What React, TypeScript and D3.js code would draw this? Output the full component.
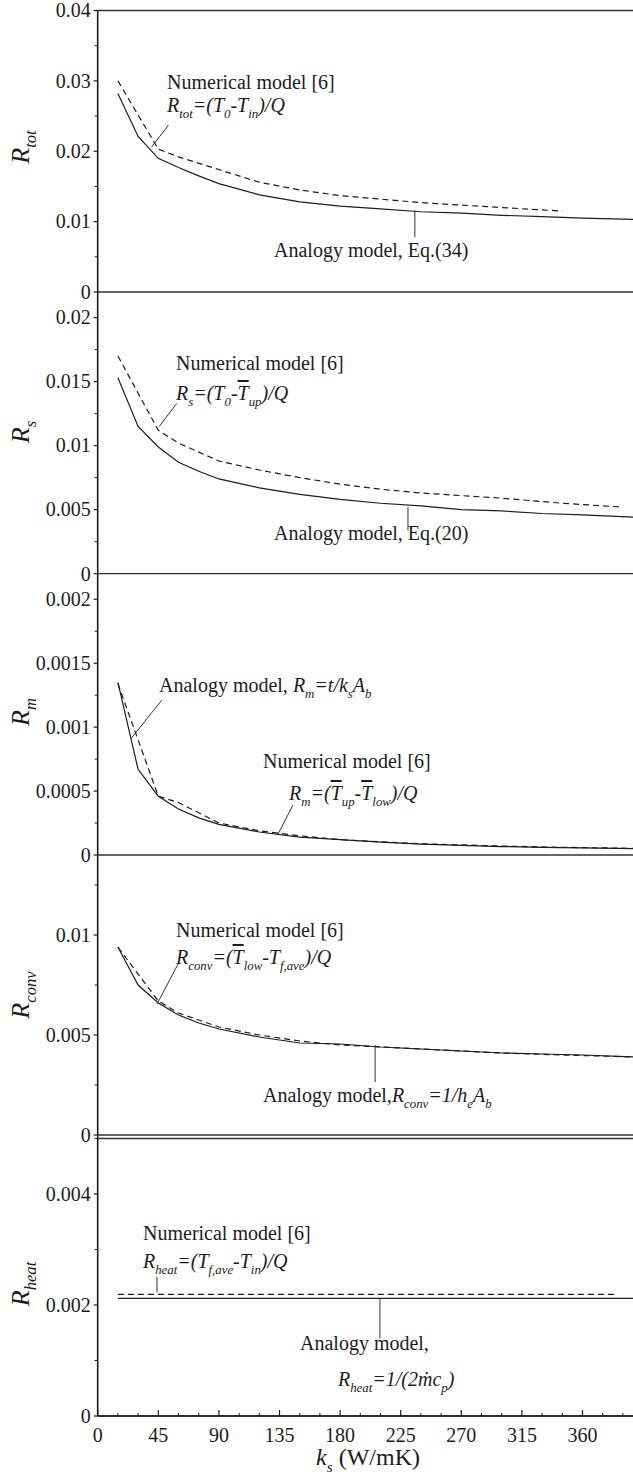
import React from 'react'
import * as d3 from 'd3'

// ---- data ----
// analogy model, solid lines
const kAnalogy = [15, 30, 45, 60, 75, 90, 120, 150, 180, 210, 240, 270, 300, 330, 360, 400]
const rTotAnalogy = [0.0282, 0.0221, 0.019, 0.0177, 0.0165, 0.0154, 0.0138, 0.0128, 0.0122, 0.0118, 0.0114, 0.0112, 0.0109, 0.0107, 0.0105, 0.0103]
const rSAnalogy = [0.0153, 0.0115, 0.0099, 0.0087, 0.008, 0.0074, 0.0067, 0.0062, 0.0058, 0.0055, 0.0053, 0.005, 0.0049, 0.0047, 0.0046, 0.0044]
const rMAnalogy = [0.00135, 0.00067, 0.00046, 0.00036, 0.00029, 0.00024, 0.00018, 0.00014, 0.00012, 0.0001, 0.000085, 0.000075, 0.000066, 0.00006, 0.000055, 0.00005]
const rConvAnalogy = [0.0094, 0.0075, 0.0066, 0.006, 0.0056, 0.0053, 0.0049, 0.0046, 0.00455, 0.0044, 0.0043, 0.0042, 0.0041, 0.00405, 0.004, 0.0039]
const rHeatAnalogy = [0.00212, 0.00212, 0.00212, 0.00212, 0.00212, 0.00212, 0.00212, 0.00212, 0.00212, 0.00212, 0.00212, 0.00212, 0.00212, 0.00212, 0.00212, 0.00212]

// numerical model [6], dashed lines
const kNumTot = [15, 45, 60, 90, 120, 150, 180, 240, 300, 345]
const rTotNumerical = [0.03, 0.0203, 0.0192, 0.0174, 0.0156, 0.0145, 0.0137, 0.0127, 0.012, 0.0115]
const kNumS = [15, 45, 60, 90, 120, 150, 180, 210, 240, 300, 345, 390]
const rSNumerical = [0.017, 0.0112, 0.0102, 0.0088, 0.0081, 0.0075, 0.007, 0.0066, 0.0063, 0.0059, 0.0055, 0.0052]
const kNumM = [15, 45, 60, 90, 120, 150, 180, 240, 300, 345, 400]
const rMNumerical = [0.00134, 0.00046, 0.00041, 0.00025, 0.00019, 0.00015, 0.00012, 0.000088, 0.00007, 0.00006, 0.000052]
const kNumConv = [15, 45, 60, 90, 120, 150, 180, 240, 300, 345, 400]
const rConvNumerical = [0.0094, 0.0067, 0.0061, 0.0054, 0.005, 0.0047, 0.0045, 0.0043, 0.0041, 0.004, 0.0039]
const kNumHeat = [15, 60, 120, 180, 240, 300, 345, 386]
const rHeatNumerical = [0.00219, 0.00219, 0.00219, 0.00219, 0.00219, 0.00219, 0.00219, 0.00219]

// tick labels
const xTicks = [0, 45, 90, 135, 180, 225, 270, 315, 360]
const tickTot = [0, 0.01, 0.02, 0.03, 0.04]
const tickS = [0, 0.005, 0.01, 0.015, 0.02]
const tickM = [0, 0.0005, 0.001, 0.0015, 0.002]
const tickConv = [0, 0.005, 0.01]
const tickHeat = [0, 0.002, 0.004]

const SERIF = '"Liberation Serif", "Times New Roman", serif'
const INK = '#1c1c1c'

const xScale = d3.scaleLinear().domain([0, 400]).range([97.7, 97.7 + 400 * 1.3467])

// each part: [text, kind]  kind: '' italic, 's' subscript, 'b' overbar, 'u' upright
type Part = [string, string]

const Rich = ({ x, y, parts, size = 20, anchor = 'start', transform }: any) => {
  let shift = 0
  return (
    <text x={x} y={y} fontFamily={SERIF} fontSize={size} fontStyle="italic" fill={INK}
      textAnchor={anchor} transform={transform} style={{ whiteSpace: 'pre' }}>
      {parts.map(([t, k]: Part, i: number) => {
        const target = k === 's' ? size * 0.28 : 0
        const dy = target - shift
        shift = target
        return (
          <tspan key={i} dy={dy} fontSize={k === 's' ? size * 0.64 : size}
            fontStyle={k === 'u' ? 'normal' : 'italic'}
            style={k === 'b' ? { textDecoration: 'overline' } : undefined}>{t}</tspan>
        )
      })}
    </text>
  )
}

const panels = [
  {
    id: 'tot', top: 10.5, base: 292, max: 0.04, ticks: tickTot, minor: 0.005, titleY: 147,
    title: [['R', ''], ['tot', 's']],
    kA: kAnalogy, vA: rTotAnalogy, kN: kNumTot, vN: rTotNumerical,
    notes: [
      { x: 167, y: 89, parts: [['Numerical model [6]', 'u']] },
      { x: 167, y: 112, parts: [['R', ''], ['tot', 's'], ['=(T', ''], ['0', 's'], ['-T', ''], ['in', 's'], [')/Q', '']] },
      { x: 274, y: 257, parts: [['Analogy model, Eq.(34)', 'u']] },
    ],
    leaders: [[40, 0.0206, 52.5, 0.0237], [235.5, 0.0116, 235.5, 0.0078]],
  },
  {
    id: 's', top: 292, base: 573.7, max: 0.022, ticks: tickS, minor: 0.0025, titleY: 432,
    title: [['R', ''], ['s', 's']],
    kA: kAnalogy, vA: rSAnalogy, kN: kNumS, vN: rSNumerical,
    notes: [
      { x: 176, y: 370, parts: [['Numerical model [6]', 'u']] },
      { x: 176, y: 400, parts: [['R', ''], ['s', 's'], ['=(T', ''], ['0', 's'], ['-', ''], ['T', 'b'], ['up', 's'], [')/Q', '']] },
      { x: 274, y: 540, parts: [['Analogy model, Eq.(20)', 'u']] },
    ],
    leaders: [[45.7, 0.0115, 58.7, 0.0133], [230.4, 0.0052, 230.4, 0.0034]],
  },
  {
    id: 'm', top: 573.7, base: 855, max: 0.0022, ticks: tickM, minor: 0.00025, titleY: 712,
    title: [['R', ''], ['m', 's']],
    kA: kAnalogy, vA: rMAnalogy, kN: kNumM, vN: rMNumerical,
    notes: [
      { x: 159, y: 692, parts: [['Analogy model, ', 'u'], ['R', ''], ['m', 's'], ['=t/k', ''], ['s', 's'], ['A', ''], ['b', 's']] },
      { x: 263, y: 768, parts: [['Numerical model [6]', 'u']] },
      { x: 289, y: 800, parts: [['R', ''], ['m', 's'], ['=(', ''], ['T', 'b'], ['up', 's'], ['-', ''], ['T', 'b'], ['low', 's'], [')/Q', '']] },
    ],
    leaders: [[24.5, 0.000907, 47.5, 0.00121], [133.4, 0.000154, 145, 0.00039]],
  },
  {
    id: 'conv', top: 855, base: 1135, max: 0.014, ticks: tickConv, minor: 0.0025, titleY: 995,
    title: [['R', ''], ['conv', 's']],
    kA: kAnalogy, vA: rConvAnalogy, kN: kNumConv, vN: rConvNumerical,
    notes: [
      { x: 176, y: 937, parts: [['Numerical model [6]', 'u']] },
      { x: 176, y: 964, parts: [['R', ''], ['conv', 's'], ['=(', ''], ['T', 'b'], ['low', 's'], ['-T', ''], ['f,ave', 's'], [')/Q', '']] },
      { x: 263, y: 1102, parts: [['Analogy model,', 'u'], ['R', ''], ['conv', 's'], ['=1/h', ''], ['e', 's'], ['A', ''], ['b', 's']] },
    ],
    leaders: [[44, 0.00655, 60.1, 0.0086], [206, 0.0045, 206, 0.00265]],
  },
  {
    id: 'heat', top: 1138.5, base: 1416, max: 0.005, ticks: tickHeat, minor: 0.001, titleY: 1284, topLine: true,
    title: [['R', ''], ['heat', 's']],
    kA: kAnalogy, vA: rHeatAnalogy, kN: kNumHeat, vN: rHeatNumerical,
    notes: [
      { x: 143, y: 1240, parts: [['Numerical model [6]', 'u']] },
      { x: 143, y: 1268, parts: [['R', ''], ['heat', 's'], ['=(T', ''], ['f,ave', 's'], ['-T', ''], ['in', 's'], [')/Q', '']] },
      { x: 300, y: 1350, parts: [['Analogy model,', 'u']] },
      { x: 338, y: 1386, parts: [['R', ''], ['heat', 's'], ['=1/(2ṁc', ''], ['p', 's'], [')', '']] },
    ],
    leaders: [[44, 0.00251, 44, 0.00223], [209.6, 0.00212, 209.6, 0.0014]],
  },
]

const Panel = ({ p }: any) => {
  const y = d3.scaleLinear().domain([0, p.max]).range([p.base, p.top])
  const line = d3.line<number>().x((_, i) => xScale(p.kA[i])).y(v => y(v))
  const lineN = d3.line<number>().x((_, i) => xScale(p.kN[i])).y(v => y(v))
  const minors = d3.range(0, p.max + 1e-12, p.minor)
    .filter(v => !p.ticks.some((t: number) => Math.abs(t - v) < 1e-9))
  const x0 = xScale(0)
  return (
    <g>
      {p.topLine && <line x1={x0} x2={633} y1={p.top} y2={p.top} stroke="#333" strokeWidth={1.3} />}
      <line x1={x0} x2={633} y1={y(0)} y2={y(0)} stroke="#333" strokeWidth={1.3} />
      {p.ticks.map((t: number) => (
        <g key={t}>
          <line x1={x0 - 4} x2={x0} y1={y(t)} y2={y(t)} stroke={INK} strokeWidth={1.2} />
          <text x={x0 - 7} y={y(t)} dy="0.34em" textAnchor="end" fontFamily={SERIF} fontSize={20} fill={INK}>{String(t)}</text>
        </g>
      ))}
      {minors.map((t: number) => (
        <line key={t} x1={x0 - 3} x2={x0} y1={y(t)} y2={y(t)} stroke={INK} strokeWidth={1} />
      ))}
      <path d={line(p.vA) || ''} fill="none" stroke={INK} strokeWidth={1.2} />
      <path d={lineN(p.vN) || ''} fill="none" stroke={INK} strokeWidth={1.2} strokeDasharray="6,4" />
      {p.leaders.map((l: number[], i: number) => (
        <line key={i} x1={xScale(l[0])} y1={y(l[1])} x2={xScale(l[2])} y2={y(l[3])} stroke="#333" strokeWidth={1} />
      ))}
      {p.notes.map((n: any, i: number) => (
        <Rich key={i} x={n.x} y={n.y} parts={n.parts} size={20} />
      ))}
      <Rich x={0} y={0} parts={p.title} size={26} anchor="middle" transform={`translate(29,${p.titleY}) rotate(-90)`} />
    </g>
  )
}

export default function App() {
  const x0 = xScale(0)
  const base = 1416
  const minorX = d3.range(15, 400, 15).filter(v => v % 45 !== 0)
  return (
    <svg width={633} height={1477} style={{ position: 'absolute', left: 0, top: 0, background: '#fff' }}>
      <rect width={633} height={1477} fill="#fff" />
      <line x1={x0} x2={633} y1={10.5} y2={10.5} stroke="#333" strokeWidth={1.3} />
      {panels.map(p => <Panel key={p.id} p={p} />)}
      <line x1={x0} x2={x0} y1={10} y2={base} stroke={INK} strokeWidth={1.6} />
      <line x1={x0} x2={633} y1={base} y2={base} stroke={INK} strokeWidth={1.6} />
      {xTicks.map(t => (
        <g key={t}>
          <line x1={xScale(t)} x2={xScale(t)} y1={base} y2={base - 6} stroke={INK} strokeWidth={1.2} />
          <text x={xScale(t)} y={1442} textAnchor="middle" fontFamily={SERIF} fontSize={20} fill={INK}>{t}</text>
        </g>
      ))}
      {minorX.map(t => (
        <line key={t} x1={xScale(t)} x2={xScale(t)} y1={base} y2={base - 3} stroke={INK} strokeWidth={1} />
      ))}
      <Rich x={368} y={1465} anchor="middle" size={24}
        parts={[['k', ''], ['s', 's'], [' (W/mK)', 'u']]} />
    </svg>
  )
}
